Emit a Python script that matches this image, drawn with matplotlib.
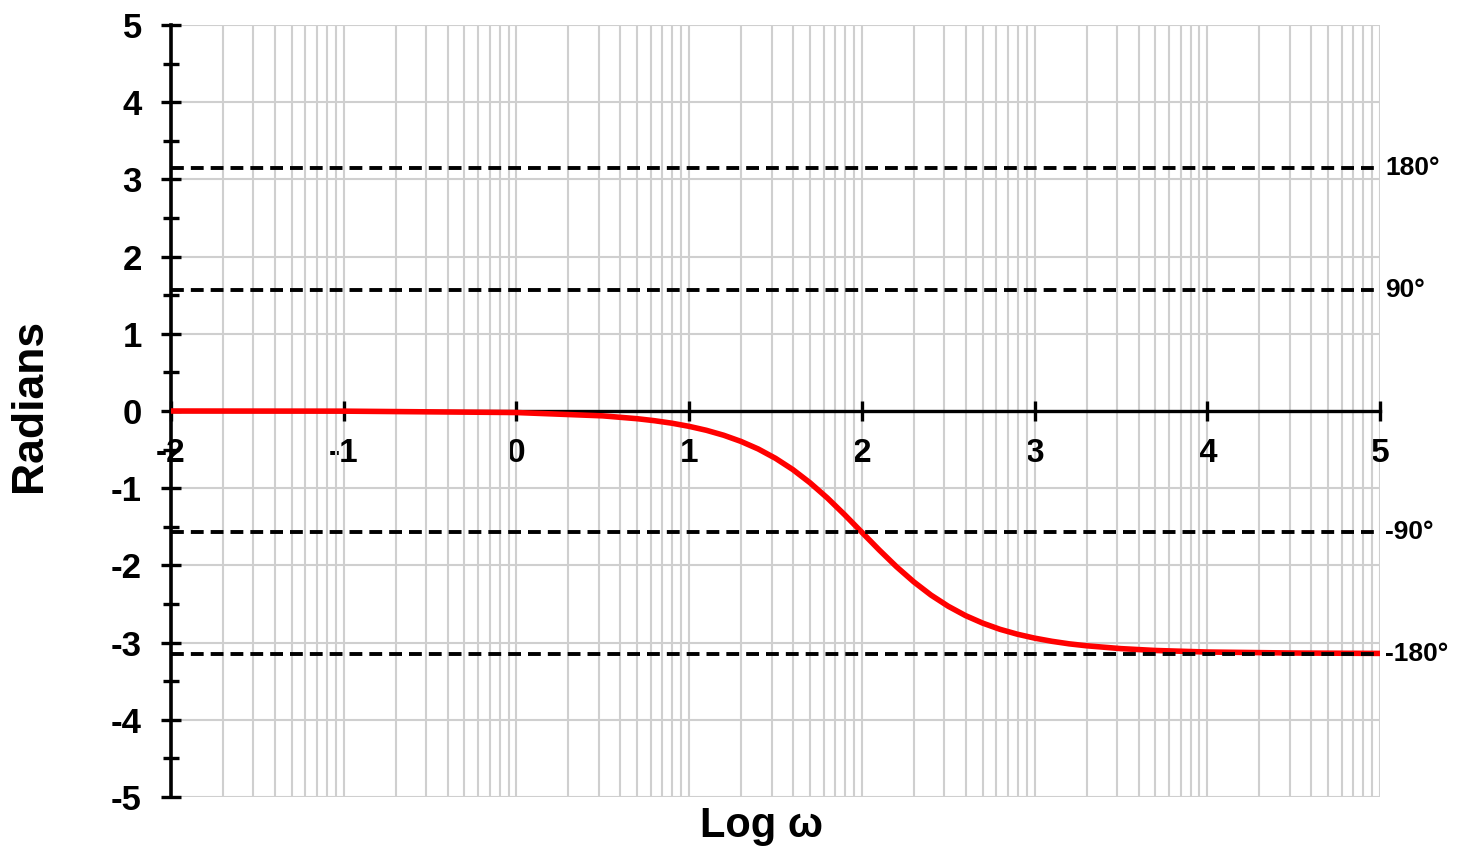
import matplotlib
matplotlib.use("Agg")
import matplotlib.pyplot as plt
import numpy as np

# phase curve (log w, radians)
log_w = [-2.0, -1.0, 0.0, 0.5, 0.7, 0.8, 0.9, 1.0, 1.1, 1.2, 1.3, 1.4, 1.5, 1.6,
         1.7, 1.8, 1.9, 2.0, 2.1, 2.2, 2.3, 2.4, 2.5, 2.6, 2.7, 2.8, 2.9, 3.0,
         3.1, 3.2, 3.3, 3.5, 3.7, 4.0, 4.5, 5.0]
phase = [0.0, -0.002, -0.02, -0.063, -0.100, -0.126, -0.158, -0.199, -0.250,
         -0.314, -0.394, -0.492, -0.613, -0.758, -0.930, -1.126, -1.343, -1.571,
         -1.799, -2.016, -2.212, -2.384, -2.529, -2.650, -2.748, -2.828, -2.891,
         -2.942, -2.983, -3.016, -3.041, -3.078, -3.102, -3.122, -3.135, -3.140]

ref_levels = [np.pi, np.pi / 2, -np.pi / 2, -np.pi]
ref_labels = ['180°', '90°', '-90°', '-180°']

x_ticks = [-2, -1, 0, 1, 2, 3, 4, 5]
y_ticks = [-5, -4, -3, -2, -1, 0, 1, 2, 3, 4, 5]

plt.rcParams['font.family'] = ['Liberation Sans', 'DejaVu Sans']
plt.rcParams['font.weight'] = 'bold'
plt.rcParams['axes.unicode_minus'] = False

fig = plt.figure(figsize=(14.65, 8.55), dpi=100)
ax = fig.add_axes([171 / 1465, 1 - 797 / 855, (1380 - 171) / 1465, (797 - 25) / 855])

ax.set_xlim(-2, 5)
ax.set_ylim(-5, 5)

# log spaced minor grid inside each decade
minor_x = [k + np.log10(m) for k in range(-2, 5) for m in range(2, 10)]
ax.set_xticks(x_ticks)
ax.set_xticks(minor_x, minor=True)
ax.set_yticks(y_ticks)
ax.set_yticks([v + 0.5 for v in range(-5, 5)], minor=True)

ax.grid(which='major', color='#cfcfcf', linewidth=1.5, zorder=0)
ax.grid(which='minor', axis='x', color='#cfcfcf', linewidth=1.5, zorder=0)
ax.set_axisbelow(True)

ax.spines['top'].set_visible(False)
ax.spines['right'].set_visible(False)
ax.spines['bottom'].set_position(('data', 0))
ax.spines['left'].set_linewidth(2.6)
ax.spines['bottom'].set_linewidth(2.4)

ax.tick_params(axis='y', which='major', direction='inout', length=14, width=2.4,
               labelsize=25, pad=14)
ax.tick_params(axis='y', which='minor', direction='inout', length=12, width=2.4)
ax.tick_params(axis='x', which='major', direction='inout', length=15, width=2.4,
               labelsize=24, pad=12)
ax.tick_params(axis='x', which='minor', length=0)

ax.plot(log_w, phase, color='red', linewidth=4.0, zorder=3, solid_capstyle='butt')

for lev, lab in zip(ref_levels, ref_labels):
    ax.plot([-2, 5], [lev, lev], color='black', linewidth=2.8,
            dashes=(3.3, 1.8), zorder=4)
    ax.text(5.03, lev, lab, fontsize=19, fontweight='bold', va='center', ha='left')

fig.text(762 / 1465, 1 - 826 / 855, 'Log ω', fontsize=30, fontweight='bold',
         ha='center', va='center')
fig.text(30 / 1465, 1 - 405 / 855, 'Radians', fontsize=32, fontweight='bold',
         ha='center', va='center', rotation=90)

fig.savefig('out.png', dpi=100)
